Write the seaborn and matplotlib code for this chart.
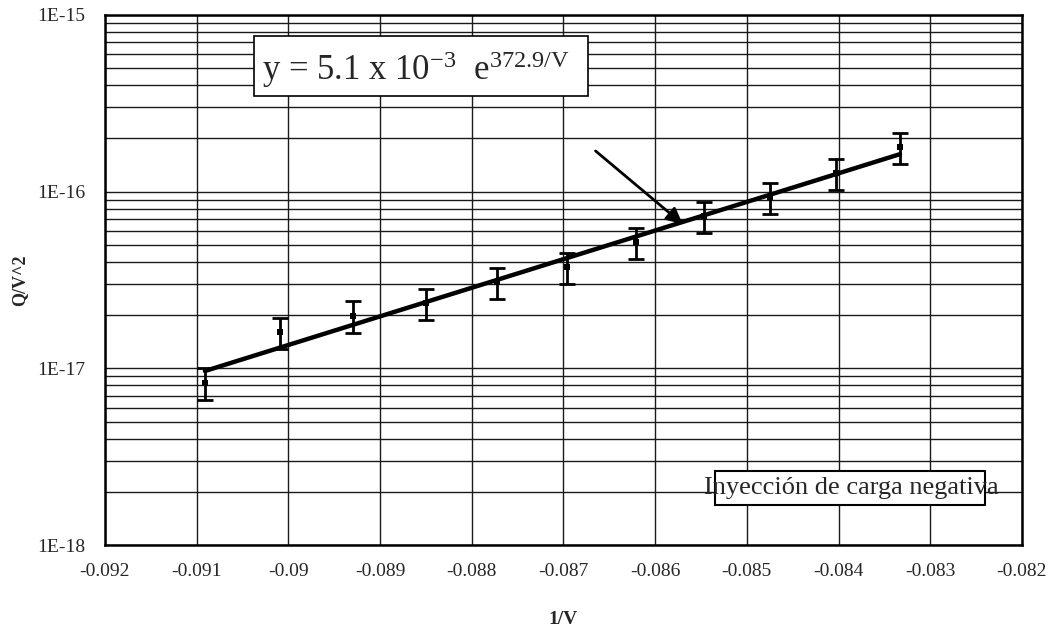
import numpy as np
import pandas as pd
import matplotlib
matplotlib.use("Agg")
import matplotlib.pyplot as plt
from matplotlib.patches import Rectangle
from matplotlib.ticker import FixedLocator, LogLocator, NullFormatter
import seaborn as sns

# Measured points: inverse voltage and charge over voltage squared
inv_v = [-0.09091, -0.09009, -0.08929, -0.08850, -0.08772, -0.08696,
         -0.08621, -0.08547, -0.08475, -0.08403, -0.08333]
q_over_v2 = [8.3e-18, 1.61e-17, 1.99e-17, 2.35e-17, 3.10e-17, 3.76e-17,
             5.21e-17, 7.29e-17, 9.37e-17, 1.27e-16, 1.80e-16]
q_err = [1.7e-18, 3.2e-18, 4.0e-18, 4.7e-18, 6.2e-18, 7.5e-18,
         1.04e-17, 1.46e-17, 1.87e-17, 2.54e-17, 3.6e-17]

# Exponential fit  y = A * exp(B * x)
fit_a = 5.1e-3
fit_b = 372.9

x_ticks = [-0.092, -0.091, -0.09, -0.089, -0.088, -0.087, -0.086,
           -0.085, -0.084, -0.083, -0.082]
x_tick_labels = ["-0.092", "-0.091", "-0.09", "-0.089", "-0.088", "-0.087",
                 "-0.086", "-0.085", "-0.084", "-0.083", "-0.082"]
y_ticks = [1e-18, 1e-17, 1e-16, 1e-15]
y_tick_labels = ["1E-18", "1E-17", "1E-16", "1E-15"]

sns.set_style("white")
plt.rcParams["font.family"] = ["Liberation Serif", "DejaVu Serif"]
plt.rcParams["mathtext.fontset"] = "custom"
plt.rcParams["mathtext.rm"] = "Liberation Serif"
plt.rcParams["mathtext.it"] = "Liberation Serif:italic"

df = pd.DataFrame({"x": inv_v, "y": q_over_v2, "err": q_err})
fit_x = np.linspace(min(inv_v), max(inv_v), 200)
fit_df = pd.DataFrame({"x": fit_x, "y": fit_a * np.exp(fit_b * fit_x)})

fig = plt.figure(figsize=(10.54, 6.35), dpi=100)
ax = fig.add_axes([0.0996, 0.1417, 0.8700, 0.8347])

ax.set_yscale("log")
ax.set_xlim(-0.092, -0.082)
ax.set_ylim(1e-18, 1e-15)

# grid: all decade subdivisions on y, unit steps on x
ax.yaxis.set_major_locator(FixedLocator(y_ticks))
ax.yaxis.set_minor_locator(LogLocator(base=10, subs=np.arange(2, 10), numticks=20))
ax.yaxis.set_minor_formatter(NullFormatter())
ax.set_yticklabels(y_tick_labels)
ax.set_xticks(x_ticks)
ax.set_xticklabels(x_tick_labels)
ax.grid(True, which="major", axis="both", color="#1a1a1a", linewidth=1.0)
ax.grid(True, which="minor", axis="y", color="#1a1a1a", linewidth=1.0)
ax.set_axisbelow(True)
ax.tick_params(axis="both", which="both", length=0, labelsize=14)
ax.tick_params(axis="y", pad=14)
ax.tick_params(axis="x", pad=13)

for sp in ax.spines.values():
    sp.set_color("black")
    sp.set_linewidth(1.8)

sns.lineplot(data=fit_df, x="x", y="y", ax=ax, color="black", linewidth=3.2,
             zorder=3)
ax.errorbar(df["x"], df["y"], yerr=df["err"], fmt="none", ecolor="black",
            elinewidth=2.0, capsize=6, capthick=2.0, zorder=4)
sns.scatterplot(data=df, x="x", y="y", ax=ax, marker="s", s=20, color="black",
                edgecolor="black", linewidth=0, zorder=5)

ax.set_xlabel("1/V", fontsize=14, fontweight="bold", labelpad=22)
ax.set_ylabel("Q/V^2", fontsize=13, fontweight="bold", labelpad=7)

# equation box
ax.add_patch(Rectangle((0.1626, 0.8466), 0.3642, 0.1132, transform=ax.transAxes,
                       facecolor="white", edgecolor="black", linewidth=1.2,
                       zorder=6))
ax.text(0.171, 0.897,
        r"y = 5.1 x 10$^{\mathrm{-3}}$  e$^{\mathrm{372.9/V}}$",
        transform=ax.transAxes, fontsize=25, ha="left", va="center", zorder=7)

# label box
ax.add_patch(Rectangle((0.665, 0.0755), 0.295, 0.0641, transform=ax.transAxes,
                       facecolor="white", edgecolor="black", linewidth=1.5,
                       zorder=6))
ax.text(0.8135, 0.1075, "Inyección de carga negativa", transform=ax.transAxes,
        fontsize=19, ha="center", va="center", zorder=7)

ax.annotate("", xy=(-0.0857, 6.56e-17), xytext=(-0.08665, 1.70e-16),
            arrowprops=dict(arrowstyle="-|>", color="black", lw=2,
                            mutation_scale=24, shrinkA=0, shrinkB=0),
            zorder=8)

fig.savefig("out.png", dpi=100, facecolor="white")
